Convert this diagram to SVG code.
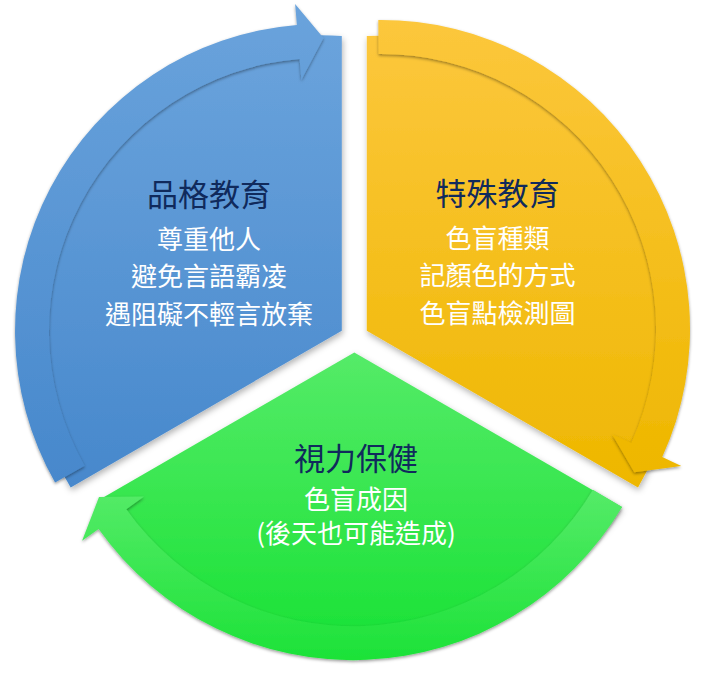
<svg xmlns="http://www.w3.org/2000/svg" width="710" height="690" viewBox="0 0 710 690">
<defs>
<linearGradient id="gBlue" x1="0" y1="0" x2="0" y2="1"><stop offset="0" stop-color="#6aa3dc"/><stop offset="1" stop-color="#4788cc"/></linearGradient>
<linearGradient id="gYellow" x1="0" y1="0" x2="0" y2="1"><stop offset="0" stop-color="#fcc73c"/><stop offset="1" stop-color="#eeb700"/></linearGradient>
<linearGradient id="gGreen" x1="0" y1="0" x2="0" y2="1"><stop offset="0" stop-color="#55eb68"/><stop offset="1" stop-color="#1ce238"/></linearGradient>
<filter id="shPie" x="-10%" y="-10%" width="120%" height="120%"><feDropShadow dx="1" dy="3" stdDeviation="3" flood-color="#000" flood-opacity="0.3"/></filter>
<filter id="shArrow" x="-10%" y="-10%" width="120%" height="120%"><feDropShadow dx="0" dy="1.5" stdDeviation="1.5" flood-color="#000" flood-opacity="0.4"/></filter>
</defs>
<style>
.title{font-family:"Noto Sans CJK TC","Noto Sans CJK SC",sans-serif;font-size:31px;fill:#102a5c;text-anchor:middle}
.body{font-family:"Noto Sans CJK TC","Noto Sans CJK SC",sans-serif;font-size:26px;fill:#ffffff;text-anchor:middle}
.pie{filter:url(#shPie)}
.arc{filter:url(#shArrow)}
</style>
<rect width="710" height="690" fill="#ffffff"/>
<g id="node-character">
<path class="pie" fill="url(#gBlue)" d="M341.8,330.8 L341.8,36 A296,296 0 0 0 70.7,487.4 Z"/>
</g>
<g id="node-special">
<path class="pie" fill="url(#gYellow)" d="M366.8,330.8 L366.8,36 A300,300 0 0 1 638,487.4 Z"/>
</g>
<g id="node-vision">
<path class="pie" fill="url(#gGreen)" d="M354.3,352.4 L621.9,506.9 A320,320 0 0 1 103.2,497.4 Z"/>
</g>
<g id="connectors">
<path class="arc" fill="url(#gBlue)" d="M55.1,482.6 A307,307 0 0 1 296.9,25 L295.1,4.1 L323.5,38 L301.4,79.8 L299.6,58.9 A273,273 0 0 0 84.6,465.8 Z"/>
<path class="arc" fill="url(#gYellow)" d="M378.3,20 A309,309 0 0 1 662.2,457.1 L681.3,465.9 L634.3,472.3 L612.1,434.3 L631.3,443 A275,275 0 0 0 378.6,54 Z"/>
<path class="arc" fill="url(#gGreen)" d="M622.1,507 A312.7,312.7 0 0 1 98.6,529 L82.1,540.8 L99,497.1 L144,496.6 L126.3,509.2 A278.7,278.7 0 0 0 592.9,489.7 Z"/>
</g>
<g id="labels-character">
<text class="title" x="209" y="206">品格教育</text>
<text class="body" x="209" y="249">尊重他人</text>
<text class="body" x="209" y="286">避免言語霸凌</text>
<text class="body" x="209" y="324">遇阻礙不輕言放棄</text>
</g>
<g id="labels-special">
<text class="title" x="497.5" y="205">特殊教育</text>
<text class="body" x="497.5" y="248">色盲種類</text>
<text class="body" x="497.5" y="285">記顏色的方式</text>
<text class="body" x="497.5" y="323">色盲點檢測圖</text>
</g>
<g id="labels-vision">
<text class="title" x="356" y="470">視力保健</text>
<text class="body" x="356" y="509">色盲成因</text>
<text class="body" x="356" y="543">(後天也可能造成)</text>
</g>
</svg>
